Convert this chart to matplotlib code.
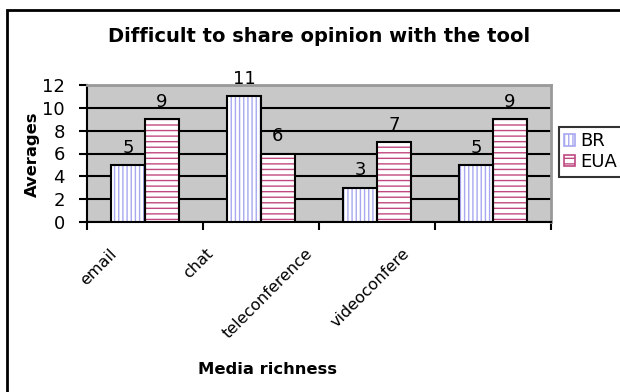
import numpy as np
import matplotlib
matplotlib.use('Agg')
import matplotlib.pyplot as plt
from matplotlib.patches import Rectangle, Patch
from matplotlib.transforms import ScaledTranslation

categories = ['email', 'chat', 'teleconference', 'videoconfere']
br = [5, 11, 3, 5]
eua = [9, 6, 7, 9]
yticks = [0, 2, 4, 6, 8, 10, 12]

plt.rcParams['font.family'] = 'DejaVu Sans'
plt.rcParams['hatch.linewidth'] = 1.0

fig = plt.figure(figsize=(6.2, 3.92), dpi=100)
fig.patch.set_facecolor('white')

# outer chart border (right and bottom run off the canvas)
fig.add_artist(Rectangle((7 / 620, -0.1), 1.2, 1 - 10 / 392 + 0.1,
                         transform=fig.transFigure, fill=False,
                         edgecolor='black', linewidth=2))

ax = fig.add_axes([87 / 620, 170 / 392, 464 / 620, 137 / 392])
ax.set_facecolor('#c8c8c8')

x = np.arange(len(categories))
w = 0.29

# hatch layer, then black outline on top
ax.bar(x - w / 2, br, w, color='white', edgecolor='#a8a8f0', hatch='||||', linewidth=0, zorder=3)
ax.bar(x + w / 2, eua, w, color='white', edgecolor='#c04880', hatch='---', linewidth=0, zorder=3)
ax.bar(x - w / 2, br, w, fill=False, edgecolor='black', linewidth=1.5, zorder=4)
ax.bar(x + w / 2, eua, w, fill=False, edgecolor='black', linewidth=1.5, zorder=4)

for i in range(len(categories)):
    ax.annotate(str(br[i]), (x[i] - w / 2, br[i]), xytext=(0, 6), textcoords='offset points',
                ha='center', va='bottom', fontsize=13, zorder=5, annotation_clip=False)
    ax.annotate(str(eua[i]), (x[i] + w / 2, eua[i]), xytext=(0, 6), textcoords='offset points',
                ha='center', va='bottom', fontsize=13, zorder=5, annotation_clip=False)

ax.set_xlim(-0.5, len(categories) - 0.5)
ax.set_ylim(0, 12)
ax.set_yticks(yticks)
ax.set_yticklabels([str(v) for v in yticks], fontsize=13)
ax.yaxis.grid(True, color='black', linewidth=1.5, zorder=1)
ax.set_axisbelow(True)

# category boundary ticks, labels placed separately
ax.set_xticks(np.arange(len(categories) + 1) - 0.5)
ax.set_xticklabels([])
ax.tick_params(axis='both', direction='out', length=6, width=1.5, color='black')
ax.tick_params(axis='y', pad=10)

shifts = [-36, -56, -72, -91]
for i, name in enumerate(categories):
    off = ScaledTranslation(shifts[i] / 100, -24 / 100, fig.dpi_scale_trans)
    ax.text(x[i], 0, name, rotation=45, ha='right', va='top', rotation_mode='anchor',
            fontsize=11.5, transform=ax.get_xaxis_transform() + off)

for side in ['left', 'bottom']:
    ax.spines[side].set_linewidth(1.5)
    ax.spines[side].set_color('black')
for side in ['top', 'right']:
    ax.spines[side].set_linewidth(2)
    ax.spines[side].set_color('#999999')

fig.text(319 / 620, 1 - 37 / 392, 'Difficult to share opinion with the tool',
         ha='center', va='center', fontsize=14, fontweight='bold')
fig.text(32 / 620, 1 - 154 / 392, 'Averages', rotation=90, ha='center', va='center',
         fontsize=11.8, fontweight='bold')
fig.text(268 / 620, 1 - 370 / 392, 'Media richness', ha='center', va='center',
         fontsize=11.8, fontweight='bold')

handles = [Patch(facecolor='white', edgecolor='#a8a8f0', hatch='||||', label='BR'),
           Patch(facecolor='white', edgecolor='#c04880', hatch='---', label='EUA')]
leg = fig.legend(handles=handles, loc='upper left', bbox_to_anchor=(559 / 620, 1 - 127 / 392),
                 fontsize=13, frameon=True, fancybox=False, handlelength=0.6, handleheight=0.6,
                 handletextpad=0.25, borderpad=0.3, labelspacing=0.15, borderaxespad=0)
leg.get_frame().set_edgecolor('black')
leg.get_frame().set_linewidth(1.5)
for p in leg.get_patches():
    p.set_linewidth(1.2)

fig.savefig('out.png', dpi=100)
